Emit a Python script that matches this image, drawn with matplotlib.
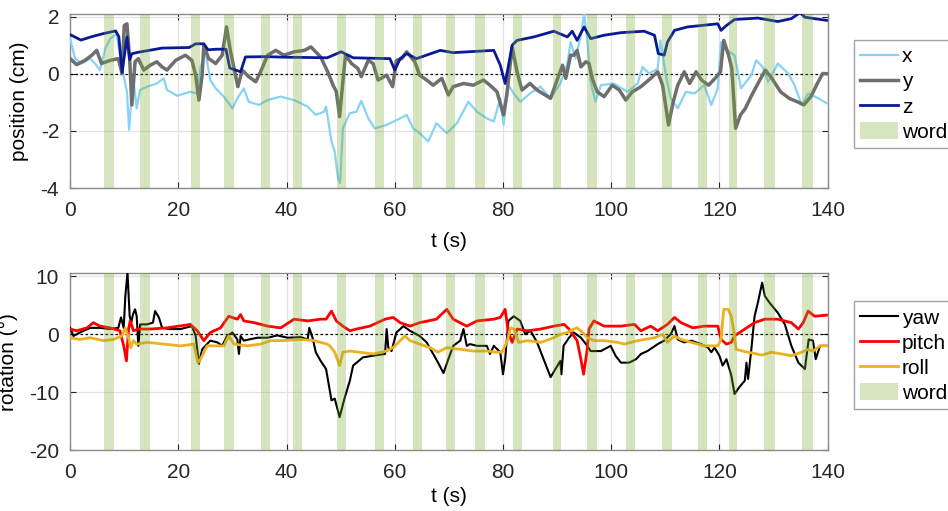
import numpy as np
import matplotlib.pyplot as plt
from matplotlib.patches import Patch

plt.rcParams['font.family'] = ['Liberation Sans', 'DejaVu Sans']
plt.rcParams['axes.unicode_minus'] = False

# word intervals (s)
word_start = [6.3, 13.0, 22.4, 28.5, 35.2, 41.1, 49.4, 56.4, 63.3, 69.4, 74.9, 81.9,
              89.3, 95.5, 102.8, 109.4, 116.0, 121.7, 128.2, 135.2]
word_end = [8.1, 14.7, 24.0, 30.2, 36.9, 42.8, 51.0, 58.1, 65.0, 71.1, 76.6, 83.5,
            90.8, 97.3, 104.4, 111.2, 117.7, 123.2, 130.3, 137.3]

# position x (cm)
x_t = [0, 0.9, 2.1, 3.7, 4.6, 5.5, 6.5, 7.4, 8.6, 9.6, 10.5, 10.9, 11.4, 11.7, 12.3, 12.9,
       14.2, 16.0, 17.3, 17.9, 19.8, 22.2, 23.5, 24.1, 25.0, 25.9, 26.9, 28.4, 30.0, 30.9,
       32.1, 33.0, 34.9, 36.5, 38.9, 41.4, 43.9, 45.4, 46.9, 47.3, 48.3, 48.9, 49.5, 49.9,
       50.4, 51.7, 52.9, 53.8, 55.1, 56.3, 58.5, 61.0, 62.2, 63.4, 64.6, 66.2, 67.7, 69.6,
       71.5, 73.6, 75.2, 77.0, 78.3, 79.5, 80.1, 81.0, 82.0, 83.2, 85.0, 86.9, 88.8, 90.6,
       91.9, 92.5, 93.4, 94.4, 95.0, 95.6, 96.2, 97.1, 98.1, 100.5, 103.0, 104.9, 105.8,
       107.0, 108.6, 109.1, 110.1, 111.0, 112.3, 113.8, 115.4, 117.2, 118.5, 119.7, 120.3,
       120.9, 122.8, 124.0, 125.9, 126.8, 128.0, 129.0, 130.8, 132.7, 133.9, 135.2, 136.4,
       138.3, 139.8]
x_cm = [1.23, 0.53, 0.36, 0.53, 0.36, 0.13, 0.88, 1.23, 1.40, 0.18, -0.63, -1.96, -0.63,
        -0.22, -1.21, -0.57, -0.45, -0.34, -0.16, -0.57, -0.77, -0.63, -0.69, 0.24, 0.77,
        -0.22, -0.51, -0.80, -1.21, -0.86, -0.51, -0.98, -1.09, -0.92, -0.80, -0.92, -1.15,
        -1.44, -1.33, -1.15, -2.37, -2.72, -3.65, -3.82, -1.91, -1.38, -1.33, -0.95, -1.56,
        -1.91, -1.79, -1.56, -1.44, -1.91, -2.08, -2.37, -1.73, -2.08, -1.73, -0.98, -1.33,
        -1.56, -1.67, -0.86, -1.79, -0.40, -0.69, -0.98, -0.69, -0.45, -0.86, -0.34, 0.36,
        1.11, 0.53, 1.35, 2.10, 1.11, -0.28, -0.98, -0.40, -0.34, -0.63, -0.34, 0.24, 0.01,
        0.18, 1.17, -0.05, -0.86, -1.21, -0.63, -0.69, -0.40, -1.09, -0.51, 1.11, 0.88,
        0.65, -0.51, -0.05, 0.47, 0.24, -0.28, 0.36, 0.01, -0.40, -1.09, -0.69, -0.86, -1.03]

# position y (cm)
y_t = [0, 1.2, 2.75, 4.0, 4.9, 5.8, 7.4, 8.9, 9.6, 10.0, 10.5, 11.0, 11.4, 12.0, 12.6, 13.6,
       14.8, 16.0, 17.0, 17.9, 19.5, 21.3, 22.5, 23.2, 23.8, 24.4, 24.7, 25.6, 26.9, 28.1,
       28.9, 29.65, 30.3, 31.0, 31.8, 33.0, 34.3, 35.2, 36.5, 38.0, 39.5, 41.4, 43.3, 44.5,
       46.3, 47.6, 48.6, 49.2, 49.8, 50.4, 50.9, 52.0, 53.2, 53.8, 55.1, 56.0, 56.9, 58.5,
       59.6, 60.3, 61.3, 62.2, 63.7, 64.6, 65.9, 67.1, 68.7, 69.9, 70.8, 72.7, 74.5, 76.4,
       77.6, 78.9, 80.1, 80.7, 81.7, 82.6, 83.5, 85.0, 86.3, 88.8, 90.0, 91.0, 91.6, 92.5,
       93.1, 93.7, 94.4, 95.3, 95.9, 96.5, 97.4, 98.7, 100.2, 101.5, 102.7, 103.9, 105.5,
       107.3, 108.6, 109.5, 110.6, 111.4, 112.3, 113.5, 114.5, 115.7, 116.7, 118.0, 119.2,
       120.2, 120.8, 121.7, 122.3, 123.0, 123.9, 124.8, 126.0, 127.3, 128.5, 129.7, 131.3,
       132.9, 134.4, 135.6, 136.9, 138.1, 139.1, 140.0]
y_cm = [0.53, 0.32, 0.47, 0.65, 0.82, 0.36, 0.47, 0.53, 0.01, 1.69, 1.75, 0.53, -1.09, 0.42,
        0.53, 0.13, 0.30, 0.42, 0.24, 0.13, 0.47, 0.65, 0.47, -0.05, -0.92, -0.05, 1.00,
        0.53, 0.36, 0.65, 1.64, 0.77, 0.18, -0.45, 0.13, -0.10, -0.28, 0.07, 0.65, 0.82,
        0.65, 0.77, 0.82, 0.94, 0.59, 0.07, -0.40, -0.63, -1.50, -0.28, 0.65, 0.36, 0.18,
        -0.10, 0.47, 0.36, -0.22, -0.05, -0.45, 0.47, 0.53, 0.77, 0.42, -0.05, -0.22, -0.40,
        -0.16, -0.74, -0.45, -0.34, -0.40, -0.22, -0.40, -0.63, -1.44, -0.74, 0.94, 0.07,
        -0.57, -0.34, -0.57, -0.86, -0.22, 0.30, -0.16, 0.65, 0.65, 0.82, 0.24, 0.42, 0.36,
        -0.16, -0.63, -0.80, -0.40, -0.57, -0.92, -0.63, -0.45, -0.16, 0.07, -0.40, -1.79,
        -1.03, -0.40, 0.07, -0.34, 0.07, -0.22, -0.40, -0.16, 0.07, 1.17, 0.65, 0.18, -1.91,
        -1.44, -1.21, -0.74, -0.28, 0.13, -0.16, -0.63, -0.86, -0.98, -1.09, -0.80, -0.34,
        0.01, 0.0]

# position z (cm)
z_t = [0, 2.0, 4.0, 6.0, 8.4, 9.0, 9.6, 10.0, 10.5, 11.0, 11.4, 12.5, 14.0, 17.0, 22.0,
       23.2, 24.7, 25.5, 27.0, 28.8, 29.5, 31.5, 32.4, 36.0, 40.0, 44.0, 47.5, 50.1, 52.3,
       59.1, 60.0, 61.0, 62.2, 64.0, 68.4, 70.8, 78.3, 79.5, 80.4, 81.7, 82.6, 85.7, 89.4,
       91.9, 92.8, 93.7, 95.0, 96.2, 98.7, 101.8, 106.1, 108.0, 108.7, 109.8, 110.4, 111.7,
       114.1, 119.7, 120.3, 121.3, 122.8, 127.1, 130.8, 133.3, 134.9, 135.8, 137.6, 139.8]
z_cm = [1.37, 1.18, 1.30, 1.40, 1.50, 1.30, 0.05, 0.60, 1.29, 0.50, 0.70, 0.75, 0.80, 0.90,
        0.92, 1.05, 1.05, 0.84, 0.86, 0.86, 0.20, 0.07, 0.59, 0.60, 0.58, 0.57, 0.56, 0.77,
        0.56, 0.53, 0.13, 0.53, 0.71, 0.53, 0.82, 0.74, 0.82, 0.30, -0.34, 1.00, 1.17, 1.29,
        1.49, 1.29, 1.49, 1.17, 1.64, 1.23, 1.35, 1.44, 1.49, 1.35, 0.71, 0.65, 1.11, 1.52,
        1.64, 1.75, 1.52, 1.69, 1.90, 1.95, 1.83, 1.93, 2.14, 1.98, 1.93, 1.87]

# yaw (deg)
yaw_t = [0, 0.6, 1.8, 3.7, 5.5, 7.4, 8.9, 9.4, 9.9, 10.2, 10.6, 11.0, 11.3, 11.6, 12.0, 12.3,
         12.6, 12.95, 14.2, 15.3, 15.7, 16.4, 17.0, 18.5, 20.4, 22.5, 23.2, 23.8, 24.4, 25.0,
         25.9, 27.2, 28.1, 29.0, 30.0, 30.9, 31.2, 31.5, 32.1, 33.05, 34.6, 36.5, 38.3, 40.2,
         42.6, 43.9, 44.2, 44.8, 45.4, 46.3, 47.3, 48.3, 48.9, 49.8, 50.7, 51.7, 52.3, 54.1,
         56.6, 58.2, 58.5, 58.8, 59.4, 60.3, 61.6, 62.8, 64.6, 65.9, 66.8, 68.0, 69.0, 69.9,
         70.8, 72.1, 72.7, 73.3, 73.9, 75.2, 77.0, 77.6, 78.3, 79.5, 80.0, 80.4, 81.0, 82.0,
         83.2, 84.1, 85.1, 86.3, 87.5, 88.8, 89.7, 90.6, 90.8, 91.2, 92.2, 93.1, 94.4, 95.6,
         96.2, 98.1, 99.9, 100.8, 101.8, 103.3, 104.6, 105.5, 106.7, 108.6, 109.8, 111.0,
         111.7, 112.3, 113.5, 114.8, 116.6, 117.9, 118.5, 119.1, 120.0, 120.6, 121.3, 122.2,
         122.8, 123.7, 124.7, 125.0, 125.3, 125.9, 126.5, 127.1, 127.9, 128.4, 129.3, 130.8,
         132.1, 133.3, 134.6, 135.8, 136.5, 137.3, 137.8, 138.6, 139.8]
yaw_deg = [1.1, -0.3, 0.3, 1.1, 1.1, 0.9, 1.1, 2.9, 1.1, 6.6, 10.6, 3.1, 2.0, 3.4, 4.3, 3.1,
           -2.0, 1.7, 1.7, 2.0, 4.0, 2.9, 1.1, 0.9, 0.9, 1.4, -0.3, -5.1, -2.6, -2.0, -1.1,
           -1.4, -2.0, -0.3, 0.3, -0.9, -3.4, -0.3, -1.1, -0.9, -0.6, -0.6, -0.2, -0.6, -0.5,
           -0.9, 1.1, -0.6, -3.1, -4.6, -6.0, -11.4, -11.1, -14.3, -11.1, -8.0, -5.4, -4.0,
           -3.6, -3.4, 0.9, -2.3, -2.9, 0.3, 1.4, 0.6, -0.3, -1.4, -2.9, -4.9, -6.7, -4.3,
           -2.0, -1.1, 0.9, -2.0, -1.7, -2.0, -2.0, -3.4, -2.0, -3.1, -6.9, -4.3, 2.3, 3.1,
           2.3, -0.0, 0.6, -1.4, -4.3, -7.4, -6.0, -4.6, -6.9, -2.0, -0.6, 0.3, -0.6, -2.0,
           -2.9, -2.9, -2.0, -3.7, -4.9, -4.9, -4.3, -3.4, -2.9, -1.7, -1.1, 0.0, 1.4, -0.9,
           -1.4, -1.1, -1.7, -2.3, -3.1, -2.3, -3.7, -5.4, -4.3, -7.1, -10.3, -9.1, -8.0,
           -4.9, -7.7, -2.6, 3.1, 5.4, 8.9, 6.6, 5.4, 3.7, 1.7, -2.0, -4.9, -6.0, -0.9, -1.1,
           -4.3, -2.0, -2.0]

# pitch (deg)
pitch_t = [0, 1.2, 3.1, 4.3, 5.5, 7.4, 9.2, 9.9, 10.4, 10.8, 11.1, 11.7, 12.6, 14.8, 17.9,
           22.2, 23.5, 24.7, 25.9, 27.8, 29.3, 30.9, 31.5, 32.1, 34.0, 36.5, 38.9, 41.4, 43.9,
           46.3, 47.3, 48.3, 49.2, 50.4, 51.7, 52.9, 55.4, 58.2, 59.7, 61.0, 62.8, 64.6, 67.7,
           69.6, 70.8, 73.3, 75.2, 78.3, 79.5, 80.4, 81.0, 81.7, 82.6, 84.5, 87.0, 89.4, 91.3,
           92.2, 93.1, 93.7, 94.4, 94.9, 95.5, 95.9, 96.8, 98.7, 101.8, 104.3, 105.5, 107.3,
           108.6, 110.4, 111.7, 112.9, 115.1, 117.2, 119.7, 120.3, 121.3, 122.2, 122.8, 124.7,
           126.5, 128.4, 130.8, 133.3, 134.6, 135.5, 136.4, 137.6, 139.8]
pitch_deg = [0.9, 0.6, 1.1, 2.0, 1.4, 1.1, 0.6, -2.0, -4.6, 0.9, 2.3, 0.6, 0.9, 0.9, 1.1,
             1.7, 0.6, -1.1, 0.3, 1.1, 3.1, 2.6, 3.4, 2.3, 2.0, 1.4, 1.1, 2.6, 2.3, 2.6, 2.6,
             4.0, 2.3, 1.4, 0.6, 0.9, 1.4, 2.6, 2.9, 2.0, 1.4, 2.0, 2.6, 4.3, 2.6, 1.4, 2.3,
             2.6, 2.9, 4.3, 0.3, -1.4, 0.9, 0.6, 0.9, 1.4, 1.7, 0.9, -0.3, -1.1, -4.3, -6.9,
             -3.1, 0.9, 2.3, 1.4, 1.4, 1.7, 0.6, 1.4, 0.6, 1.7, 2.9, 2.0, 1.1, 1.4, 1.4, -0.9,
             -1.7, -1.4, -0.3, 0.9, 2.0, 2.6, 2.6, 2.0, 0.9, 2.0, 4.0, 3.1, 3.3]

# roll (deg)
roll_t = [0, 1.8, 3.7, 6.15, 8.0, 9.55, 10.2, 10.8, 11.2, 11.7, 12.3, 14.2, 17.3, 20.4, 22.85,
          23.6, 24.1, 25.3, 27.2, 28.4, 29.3, 30.3, 32.75, 35.2, 37.1, 39.5, 42.6, 45.1, 47.5,
          48.0, 48.9, 49.8, 50.4, 51.7, 53.5, 56.0, 58.5, 59.7, 61.0, 61.9, 62.8, 64.6, 66.5,
          68.0, 69.6, 72.1, 74.5, 77.0, 78.9, 79.8, 80.7, 81.4, 82.0, 82.9, 84.5, 87.0, 89.4,
          90.6, 91.9, 93.1, 93.7, 94.7, 95.6, 96.8, 98.7, 101.2, 102.4, 104.9, 108.0, 109.5,
          110.4, 111.7, 112.9, 114.8, 117.2, 119.7, 120.3, 120.8, 121.6, 122.2, 122.7, 123.1,
          124.7, 126.5, 127.8, 129.6, 131.5, 133.3, 135.2, 136.4, 137.3, 138.6, 139.8]
roll_deg = [-0.6, -0.9, -0.6, -1.1, -0.9, -0.3, 1.1, -0.6, -2.3, -1.1, -1.7, -1.4, -1.7,
            -2.0, -1.7, -4.9, -4.3, -2.0, -2.0, -2.0, -0.3, -1.7, -2.0, -1.7, -1.1, -1.1,
            -0.9, -1.1, -1.7, -2.0, -3.1, -5.4, -3.1, -2.9, -3.1, -3.4, -2.9, -2.3, -1.1,
            -0.3, -1.1, -1.7, -2.3, -3.1, -2.3, -2.6, -2.9, -2.9, -3.1, -3.1, -1.4, 1.1, 0.9,
            -1.4, -1.1, -1.4, -0.6, -0.0, 0.3, 0.9, 1.1, 0.3, -0.6, -1.1, -1.1, -1.4, -1.7,
            -1.1, -0.6, 0.0, -1.4, -0.3, -0.9, -1.4, -2.0, -2.0, -0.9, 4.3, 4.3, 3.1, 0.3,
            -2.6, -3.0, -3.3, -3.6, -3.1, -3.4, -3.7, -3.1, -2.6, -2.9, -2.0, -2.0]

word_color = (0.47, 0.67, 0.19)

fig = plt.figure(figsize=(9.48, 5.11), dpi=100)
ax1 = fig.add_axes([0.074, 0.632, 0.799, 0.341])
ax2 = fig.add_axes([0.074, 0.119, 0.799, 0.346])


def style(ax, xpad):
    for s in ax.spines.values():
        s.set_color('#8c8c8c')
        s.set_linewidth(1.0)
    ax.tick_params(direction='in', top=True, right=True, labelsize=15,
                   colors='#262626', length=4, width=0.8)
    ax.tick_params(axis='x', pad=9)
    ax.tick_params(axis='y', pad=8)
    ax.grid(True, color='#e3e3e3', linewidth=0.9)
    ax.set_axisbelow(True)
    ax.set_xlim(0, 140)
    ax.set_xticks(np.arange(0, 141, 20))
    ax.axhline(0, color='black', linestyle=(0, (2, 2)), linewidth=0.9, zorder=3)
    for a, b in zip(word_start, word_end):
        ax.axvspan(a, b, color=word_color, alpha=0.3, linewidth=0, zorder=5)
    ax.set_xlabel('t (s)', fontsize=15, labelpad=xpad)


# position panel
ax1.plot(x_t, x_cm, color='#86d3f7', linewidth=1.6, label='x', zorder=4)
ax1.plot(y_t, y_cm, color='#6e6e6e', linewidth=2.5, label='y', zorder=4)
ax1.plot(z_t, z_cm, color='#0a1a96', linewidth=2.0, label='z', zorder=4)
style(ax1, 9)
ax1.set_ylim(-4, 2.1)
ax1.set_yticks([-4, -2, 0, 2])
ax1.set_ylabel('position (cm)', fontsize=15, labelpad=8)

# rotation panel
ax2.plot(yaw_t, yaw_deg, color='black', linewidth=1.5, label='yaw', zorder=4)
ax2.plot(pitch_t, pitch_deg, color='red', linewidth=2.0, label='pitch', zorder=4)
ax2.plot(roll_t, roll_deg, color='#edb120', linewidth=2.0, label='roll', zorder=4)
style(ax2, 4)
ax2.set_ylim(-20, 10.5)
ax2.set_yticks([-20, -10, 0, 10])
ax2.set_ylabel('rotation (°)', fontsize=15, labelpad=8)

word_patch = Patch(facecolor=word_color, alpha=0.3, edgecolor='none', label='word')

for ax, top in [(ax1, 0.921), (ax2, 0.410)]:
    h, l = ax.get_legend_handles_labels()
    leg = fig.legend(h + [word_patch], l + ['word'], loc='upper left',
                     bbox_to_anchor=(0.901, top), bbox_transform=fig.transFigure,
                     fontsize=15, frameon=True, fancybox=False, handlelength=1.8,
                     handleheight=0.9, handletextpad=0.2, labelspacing=0.25,
                     borderpad=0.3, borderaxespad=0)
    leg.get_frame().set_edgecolor('#8c8c8c')
    leg.get_frame().set_linewidth(1.0)

fig.savefig('out.png', dpi=100)
